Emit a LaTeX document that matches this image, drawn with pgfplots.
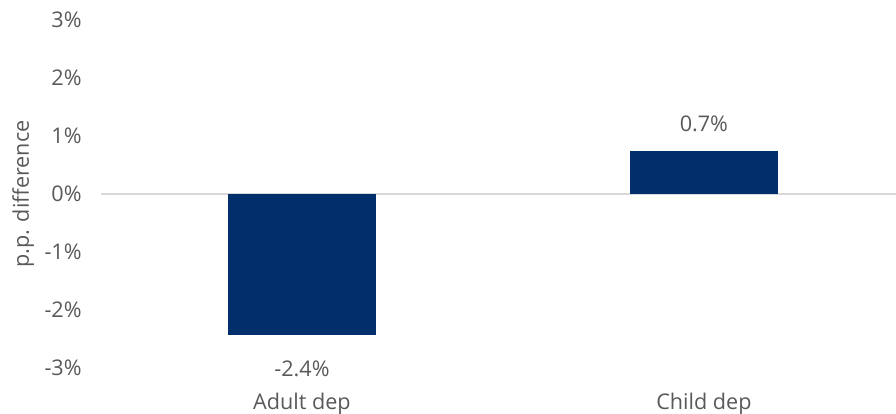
\documentclass[border=0pt]{standalone}
\usepackage{pgfplots}
\pgfplotsset{compat=1.18}
\usepackage{fontspec}
\setmainfont{Open Sans}
\definecolor{barblue}{HTML}{002F6C}
\definecolor{txtgray}{HTML}{595959}
\definecolor{zerogray}{HTML}{D9D9D9}
\begin{document}
\begin{tikzpicture}[x=0.75pt,y=0.75pt]
\path[use as bounding box] (-101,-46) rectangle (795,368);
\begin{axis}[
  at={(0,0)}, anchor=south west,
  scale only axis,
  width=596.25pt, height=261pt,
  ymin=-3, ymax=3,
  xmin=-0.5, xmax=1.478,
  ytick={-3,-2,-1,0,1,2,3},
  yticklabels={-3\%,-2\%,-1\%,0\%,1\%,2\%,3\%},
  xtick={0,1},
  xticklabels={Adult dep,Child dep},
  axis line style={draw=none},
  major tick length=0pt,
  tick label style={font=\fontsize{16.2}{19}\selectfont, text=txtgray},
  yticklabel style={xshift=-11pt},
  xticklabel style={yshift=-15pt},
  ylabel={p.p. difference},
  ylabel style={font=\fontsize{16.2}{19}\selectfont, text=txtgray, yshift=1pt},
  extra y ticks={0},
  extra y tick labels={},
  extra y tick style={grid=major, major grid style={draw=zerogray, line width=1.2pt}},
  ybar, bar width=111pt, bar shift=0pt,
  point meta=explicit symbolic,
  clip=false,
]
\addplot[fill=barblue, draw=none, nodes near coords,
  every node near coord/.append style={font=\fontsize{16.2}{19}\selectfont, text=txtgray, anchor=north, inner sep=0pt, yshift=-19pt}]
  table[meta=label] {
x y label
0 -2.43 -2.4\%
};
\addplot[fill=barblue, draw=none, nodes near coords,
  every node near coord/.append style={font=\fontsize{16.2}{19}\selectfont, text=txtgray, anchor=south, inner sep=0pt, yshift=14pt}]
  table[meta=label] {
x y label
1 0.74 0.7\%
};
\end{axis}
\end{tikzpicture}
\end{document}
